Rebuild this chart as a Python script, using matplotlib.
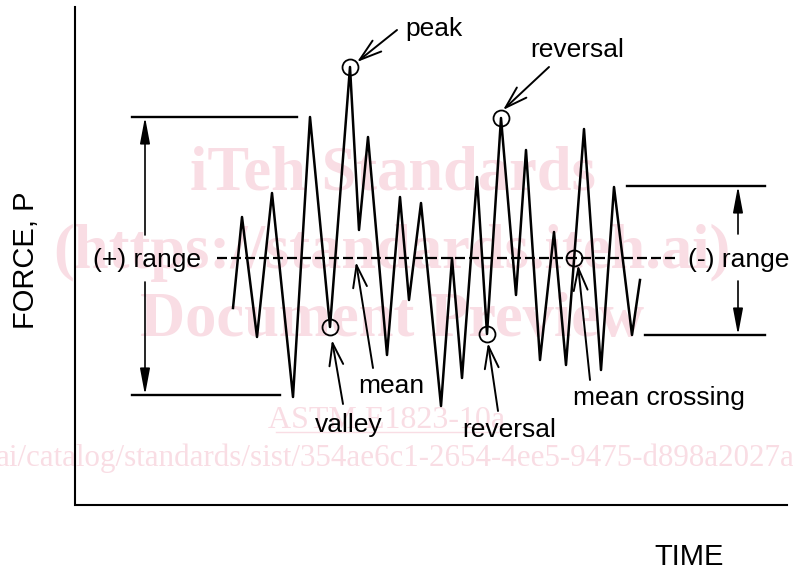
import matplotlib.pyplot as plt

# zigzag load history (time, force relative to mean)
tiempo = [233, 242, 257, 272, 293, 310, 330, 350, 359, 368, 387, 400, 409, 421, 441,
          452, 462, 477, 487, 501, 516, 526, 540, 554, 566, 584, 601, 614, 632, 640]
fuerza = [-50, 41, -79, 65, -139, 141, -69, 191, 28, 121, -97, 61, -42, 55, -148,
          0, -120, 81, -76, 140, -37, 108, -102, 26, -107, 129, -112, 71, -77, -22]

# circled points: peak, valley, reversal (top), reversal (bottom), mean crossing
circ_t = [350, 330, 501, 487, 574]
circ_f = [191, -69, 140, -76, 0]

# range levels
rango_pos = [141, -137]
rango_neg = [72, -77]
media = 0

etiquetas = ['peak', 'reversal', 'mean', 'valley', 'reversal', 'mean crossing']

plt.rcParams['font.family'] = ['Liberation Sans', 'DejaVu Sans']

fig = plt.figure(figsize=(7.93, 5.71), dpi=100)
ax = fig.add_axes([0, 0, 1, 1])
ax.set_xlim(0, 793)
ax.set_ylim(-313, 258)
ax.axis('off')

# watermark
rosa = '#f9dde4'
wm = dict(family='Liberation Serif', color=rosa, zorder=0, ha='center', va='baseline')
ax.text(393, 258 - 190, 'iTeh Standards', fontsize=45, fontweight='bold', **wm)
ax.text(392, 258 - 268, '(https://standards.iteh.ai)', fontsize=45, fontweight='bold', **wm)
ax.text(392, 258 - 336, 'Document Preview', fontsize=45, fontweight='bold', **wm)
ax.text(387, 258 - 428, 'ASTM E1823-10a', fontsize=23, **wm)
ax.plot([276, 500], [258 - 432, 258 - 432], color=rosa, lw=1, zorder=0)
ax.text(795, 258 - 466, 'ai/catalog/standards/sist/354ae6c1-2654-4ee5-9475-d898a2027a',
        fontsize=22.3, family='Liberation Serif', color=rosa, zorder=0, ha='right', va='baseline')

# axes of the sketch
ax.plot([75, 75, 787], [251, -247, -247], color='black', lw=1.5, solid_joinstyle='miter')

# mean line
linea, = ax.plot([217, 678], [media, media], color='black', lw=1.6)
linea.set_dashes((4.5, 1.8))

# load history
ax.plot(tiempo, fuerza, color='black', lw=1.8, zorder=3)
ax.plot(circ_t, circ_f, 'o', ms=11.5, mfc='none', mec='black', mew=1.3, zorder=4)

# range lines
ax.plot([132, 297], [rango_pos[0]] * 2, color='black', lw=1.7)
ax.plot([132, 280], [rango_pos[1]] * 2, color='black', lw=1.7)
ax.plot([627, 765], [rango_neg[0]] * 2, color='black', lw=1.7)
ax.plot([645, 765], [rango_neg[1]] * 2, color='black', lw=1.7)

flecha_r = dict(arrowstyle='-|>,head_length=0.8,head_width=0.15', color='black',
                lw=1.2, mutation_scale=20, shrinkA=0, shrinkB=0)
ax.annotate('', xy=(145, rango_pos[0]), xytext=(145, 23), arrowprops=flecha_r)
ax.annotate('', xy=(145, rango_pos[1]), xytext=(145, -24), arrowprops=flecha_r)
ax.annotate('', xy=(738, rango_neg[0]), xytext=(738, 24), arrowprops=flecha_r)
ax.annotate('', xy=(738, rango_neg[1]), xytext=(738, -23), arrowprops=flecha_r)

ax.text(93, -9, '(+) range', fontsize=19, ha='left', va='baseline')
ax.text(688, -9, '(-) range', fontsize=19, ha='left', va='baseline')

# labelled arrows
flecha = dict(arrowstyle='->,head_length=0.8,head_width=0.25', color='black',
              lw=1.4, mutation_scale=20, shrinkA=0, shrinkB=0)
texto_pos = [(405, 222), (530, 201), (358, -135), (315, -174), (462, -179), (573, -147)]
colas = [(397, 228), (549, 191), (373, -110), (343, -146), (498, -153), (590, -122)]
puntas = [(357, 196), (503, 148), (356, -4), (332, -82), (488, -85), (578, -7)]
for lab, tp, c, p in zip(etiquetas, texto_pos, colas, puntas):
    ax.text(tp[0], tp[1], lab, fontsize=19, ha='left', va='baseline')
    ax.annotate('', xy=p, xytext=c, arrowprops=flecha)

ax.text(26, -2, 'FORCE, P', fontsize=21, rotation=90, ha='center', va='center')
ax.text(689, -307, 'TIME', fontsize=21, ha='center', va='baseline')

fig.savefig('out.png', dpi=100)
